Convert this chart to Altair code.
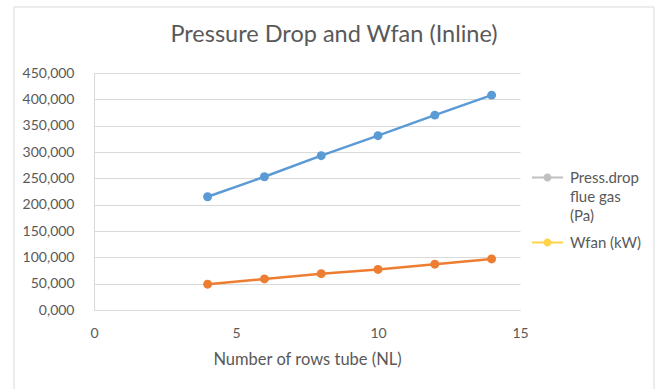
import altair as alt
import pandas as pd

# Number of tube rows and the two measured series
rows = [4, 6, 8, 10, 12, 14]
press_drop = [215, 253, 293, 331, 370, 408]
wfan = [49, 59, 69, 77, 87, 97]

series_names = ["Press.drop flue gas (Pa)", "Wfan (kW)"]
line_colors = ["#5B9BD5", "#ED7D31"]
legend_colors = ["#A5A5A5", "#FFC000"]

y_ticks = [0, 50, 100, 150, 200, 250, 300, 350, 400, 450]
x_ticks = [0, 5, 10, 15]

df = pd.DataFrame({
    "NL": rows + rows,
    "value": press_drop + wfan,
    "series": [series_names[0]] * len(rows) + [series_names[1]] * len(rows),
})

FONT = "Lato"
TEXT = "#595959"
GRID = "#D9D9D9"

x_enc = alt.X(
    "NL:Q",
    scale=alt.Scale(domain=[0, 15], nice=False, zero=False),
    axis=alt.Axis(values=x_ticks, title="Number of rows tube (NL)", grid=False,
                  labelFlush=False, labelPadding=16, titlePadding=11, titleFontSize=16.5),
)
y_enc = alt.Y(
    "value:Q",
    scale=alt.Scale(domain=[0, 450], nice=False),
    axis=alt.Axis(values=y_ticks, title=None, grid=True, labelPadding=20, labelFlush=False,
                  labelExpr="replace(format(datum.value, '.3f'), '.', ',')"),
)

# chart-area frame
frame = alt.Chart(pd.DataFrame({"k": [0]})).mark_rect(
    fillOpacity=0, stroke=GRID, strokeWidth=1
).encode(
    x=alt.value(-80), x2=alt.value(560), y=alt.value(-66), y2=alt.value(340)
)

lines = alt.Chart(df).mark_line(
    strokeWidth=2.5,
    point=alt.OverlayMarkDef(filled=True, size=80),
).encode(
    x=x_enc,
    y=y_enc,
    color=alt.Color("series:N", scale=alt.Scale(domain=series_names, range=line_colors), legend=None),
)

# legend key: a thin bar with a dot in the middle
legend_symbol = (
    "M-1,-0.065H1V0.065H-1Z"
    "M-0.26,0A0.26,0.26,0,1,1,0.26,0A0.26,0.26,0,1,1,-0.26,0Z"
)
legend_def = alt.Legend(
    title=None,
    orient="none",
    legendX=438,
    legendY=89,
    padding=0,
    symbolType=legend_symbol,
    symbolSize=961,
    symbolStrokeWidth=0,
    labelFont=FONT,
    labelFontSize=15,
    labelColor=TEXT,
    labelOffset=7,
    labelLimit=200,
    rowPadding=3,
    labelExpr="datum.label == 'Press.drop flue gas (Pa)' ? ['Press.drop', 'flue gas', '(Pa)'] : datum.label",
)

key = alt.Chart(df).transform_filter("false").mark_point(filled=True).encode(
    x=x_enc,
    y=y_enc,
    color=alt.Color("series:N", scale=alt.Scale(domain=series_names, range=legend_colors), legend=legend_def),
)

chart = alt.layer(frame, lines, key).resolve_scale(
    color="independent"
).properties(
    width=426,
    height=237,
    padding={"left": 94, "top": 73, "right": 142, "bottom": 79},
    autosize=alt.AutoSizeParams(type="none"),
    title=alt.Title(
        "Pressure Drop and Wfan (Inline)",
        font=FONT, fontSize=23.5, fontWeight="normal", color=TEXT,
        anchor="middle", dx=27, offset=-59, baseline="alphabetic", frame="group",
    ),
).configure(
    background="white",
    style={"guide-label": {"lineHeight": 19}},
).configure_view(
    stroke="transparent"
).configure_axis(
    domainColor=GRID, gridColor=GRID, ticks=False,
    labelFont=FONT, labelFontSize=14, labelColor=TEXT,
    titleFont=FONT, titleFontSize=14, titleColor=TEXT, titleFontWeight="normal",
)

chart.save("out.html", embed_options={"renderer": "svg", "actions": False})
